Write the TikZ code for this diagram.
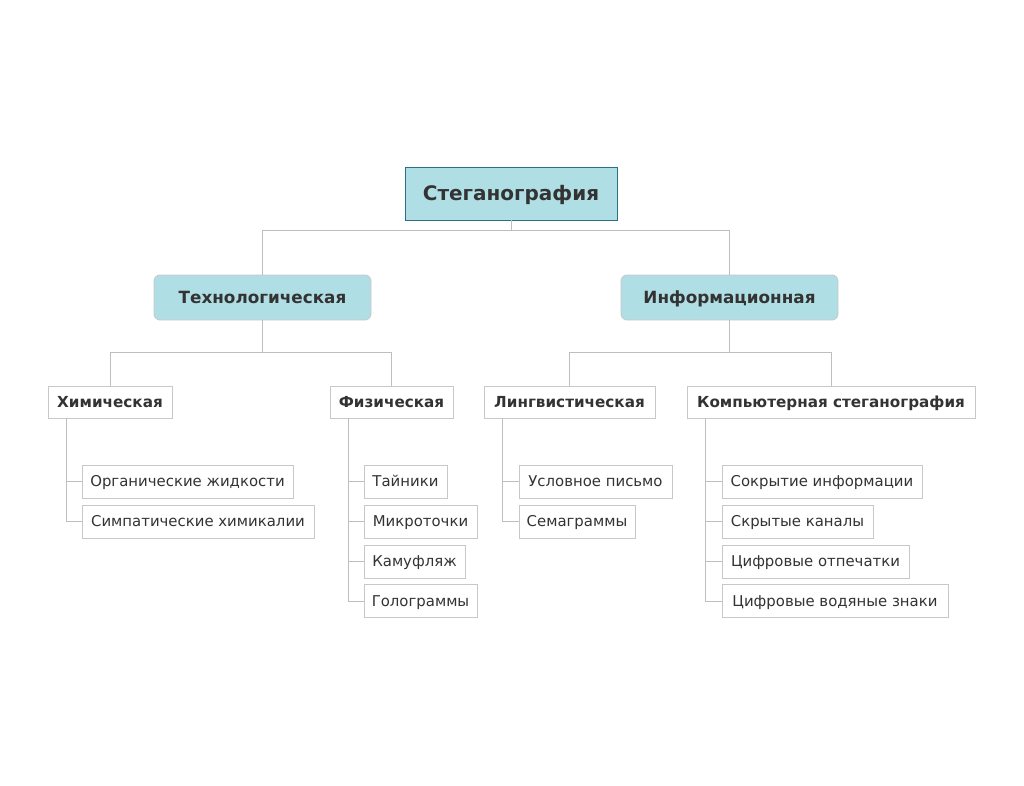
\documentclass[tikz,border=0pt]{standalone}
\usepackage{fontspec}
\setmainfont{DejaVu Sans}
\begin{document}
\begin{tikzpicture}[x=1pt,y=-1pt,
  every node/.style={inner sep=0pt, text=txt, text depth=0pt},
  conn/.style={draw=linegray, line width=0.9pt},
  rootbox/.style={draw=rootborder, fill=teal1, line width=0.9pt, text height=14.6pt, font=\bfseries\fontsize{20}{24}\selectfont},
  catbox/.style={draw=boxgray, fill=teal1, rounded corners=6pt, line width=0.8pt, minimum height=45pt, minimum width=217pt, text height=12.2pt, font=\bfseries\fontsize{16.8}{20}\selectfont},
  subbox/.style={draw=boxgray, fill=white, line width=0.8pt, minimum height=32pt, text height=11.1pt, font=\bfseries\fontsize{15.2}{18}\selectfont},
  leafbox/.style={draw=boxgray, fill=white, line width=0.8pt, minimum height=33pt, text height=10.9pt, font=\fontsize{14.9}{18}\selectfont}
]
\definecolor{txt}{HTML}{333333}
\definecolor{teal1}{HTML}{B0DEE5}
\definecolor{rootborder}{HTML}{2A6F88}
\definecolor{boxgray}{HTML}{C8C8C8}
\definecolor{linegray}{HTML}{BEBEBE}
\useasboundingbox (0,0) rectangle (1024,786);

\node[rootbox, minimum width=212pt, minimum height=53pt] (root) at (511,193.5) {Стеганография};
\node[catbox] (tech) at (262.5,297.5) {Технологическая};
\node[catbox] (info) at (729.5,297.5) {Информационная};

\node[subbox, minimum width=124pt] (chem) at (110,402) {Химическая};
\node[subbox, minimum width=123pt] (phys) at (391.5,402) {Физическая};
\node[subbox, minimum width=171pt] (ling) at (569.5,402) {Лингвистическая};
\node[subbox, minimum width=288pt] (comp) at (831,402) {Компьютерная стеганография};

% leaves: chem
\node[leafbox, minimum width=211pt] (c1) at (187.5,481.5) {Органические жидкости};
\node[leafbox, minimum width=232pt] (c2) at (198,521.5) {Симпатические химикалии};
% leaves: phys
\node[leafbox, minimum width=83pt] (p1) at (405.5,481.5) {Тайники};
\node[leafbox, minimum width=113pt] (p2) at (420.5,521.5) {Микроточки};
\node[leafbox, minimum width=101pt] (p3) at (414.5,561.5) {Камуфляж};
\node[leafbox, minimum width=113pt] (p4) at (420.5,601) {Голограммы};
% leaves: ling
\node[leafbox, minimum width=153pt] (l1) at (595.5,481.5) {Условное письмо};
\node[leafbox, minimum width=116pt] (l2) at (577,521.5) {Семаграммы};
% leaves: comp
\node[leafbox, minimum width=200pt] (k1) at (822,481.5) {Сокрытие информации};
\node[leafbox, minimum width=151pt] (k2) at (797.5,521.5) {Скрытые каналы};
\node[leafbox, minimum width=187pt] (k3) at (815.5,561.5) {Цифровые отпечатки};
\node[leafbox, minimum width=226pt] (k4) at (835,601) {Цифровые водяные знаки};

% connectors
\coordinate (r1) at ([yshift=-10pt]root.south);
\draw[conn] (root.south) -- (r1) -| (tech.north);
\draw[conn] (r1) -| (info.north);
\coordinate (t1) at ([yshift=-32pt]tech.south);
\draw[conn] (tech.south) -- (t1) -| (chem.north);
\draw[conn] (t1) -| (phys.north);
\coordinate (i1) at ([yshift=-32pt]info.south);
\draw[conn] (info.south) -- (i1) -| (ling.north);
\draw[conn] (i1) -| (comp.north);

\foreach \p/\kids in {chem/{c1,c2}, phys/{p1,p2,p3,p4}, ling/{l1,l2}, comp/{k1,k2,k3,k4}}{
  \foreach \k in \kids {
    \draw[conn] ([xshift=19pt]\p.south west) |- (\k.west);
  }
}
\end{tikzpicture}
\end{document}
